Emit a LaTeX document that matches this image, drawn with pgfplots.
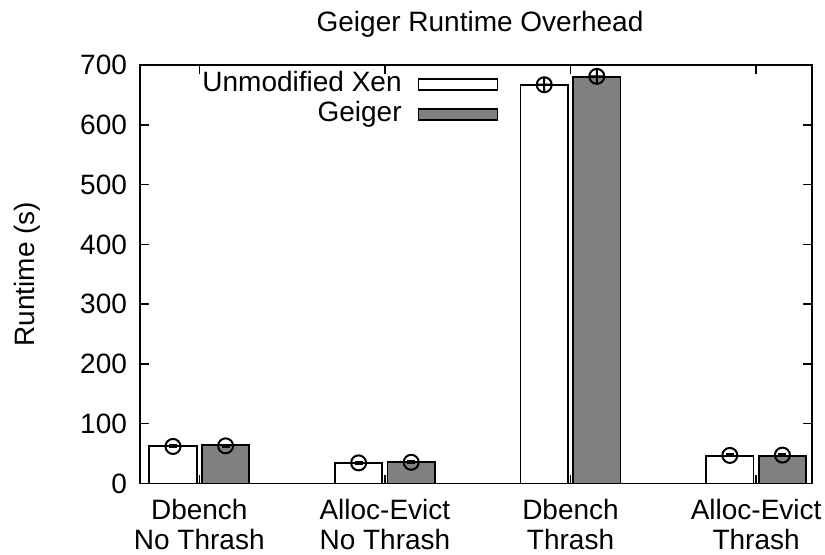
\documentclass[border=0pt]{standalone}
\usepackage{fontspec}
\setmainfont{Liberation Sans}
\usepackage{pgfplots}
\pgfplotsset{compat=1.18}
\begin{document}
\begin{tikzpicture}
\begin{axis}[
  scale only axis, width=336pt, height=209.25pt,
  xmin=-0.3195, xmax=3.301, ymin=0, ymax=700,
  ytick={0,100,...,700},
  xtick={0,1,2,3},
  xticklabels={{Dbench\\No Thrash},{Alloc-Evict\\No Thrash},{Dbench\\Thrash},{Alloc-Evict\\Thrash}},
  xticklabel style={align=center, yshift=-4.5pt},
  yticklabel style={xshift=-3pt},
  tick align=inside, major tick length=4.5pt,
  every tick/.style={black, line width=0.75pt},
  axis line style={line width=0.75pt},
  font=\fontsize{14}{15}\selectfont,
  /pgf/number format/assume math mode=true,
  title={Geiger Runtime Overhead},
  title style={at={(axis description cs:0.506,1)}, anchor=base, yshift=11pt},
  ylabel={Runtime (s)},
  ylabel style={at={(axis description cs:-0.168,0.5)}, anchor=center},
  legend style={draw=none, fill=none, at={(axis description cs:0.534,0.99)}, anchor=north east,
    inner sep=0pt, row sep=0pt, font=\fontsize{14}{15}\selectfont,
    nodes={text height=10pt, text depth=3pt, inner sep=1pt},
    /tikz/every odd column/.style={column sep=7pt}},
  legend cell align=right,
  legend plot pos=right,
]
\addplot[ybar, bar width=23.65pt, bar shift=-13.15pt, fill=white, draw=black, line width=0.9pt,
  legend image code/.code={\draw[fill=white, draw=black, line width=0.9pt] (0pt,-2.75pt) rectangle (39.5pt,2.75pt);}]
  coordinates {(0,63) (1,34) (2,667) (3,46)};
\addlegendentry{Unmodified Xen}
\addplot[ybar, bar width=23.65pt, bar shift=13.15pt, fill=black!50, draw=black, line width=0.9pt,
  legend image code/.code={\draw[fill=black!50, draw=black, line width=0.9pt] (0pt,-2.75pt) rectangle (39.5pt,2.75pt);}]
  coordinates {(0,64) (1,35.5) (2,680) (3,46.5)};
\addlegendentry{Geiger}
% error markers: circles
\addplot[forget plot, only marks, mark=o, mark size=3.75pt, mark options={line width=1pt, black}]
  coordinates {(-0.1417,62) (0.8583,34.5) (2.8583,47) (0.1417,63) (1.1417,35.5) (3.1417,47.5)};
% small error bars (horizontal caps)
\addplot[forget plot, only marks, mark=-, mark size=2pt, mark options={line width=2pt, black}]
  coordinates {(-0.1417,62) (0.8583,34.5) (2.8583,47) (0.1417,63) (1.1417,35.5) (3.1417,47.5)};
\addplot[forget plot, only marks, mark=oplus, mark size=3.75pt, mark options={line width=1pt, black}]
  coordinates {(1.8583,667) (2.1417,681)};
\end{axis}
\pgfresetboundingbox
\path[use as bounding box] (-70pt,-35.25pt) rectangle (342.5pt,241.75pt);
\end{tikzpicture}
\end{document}
